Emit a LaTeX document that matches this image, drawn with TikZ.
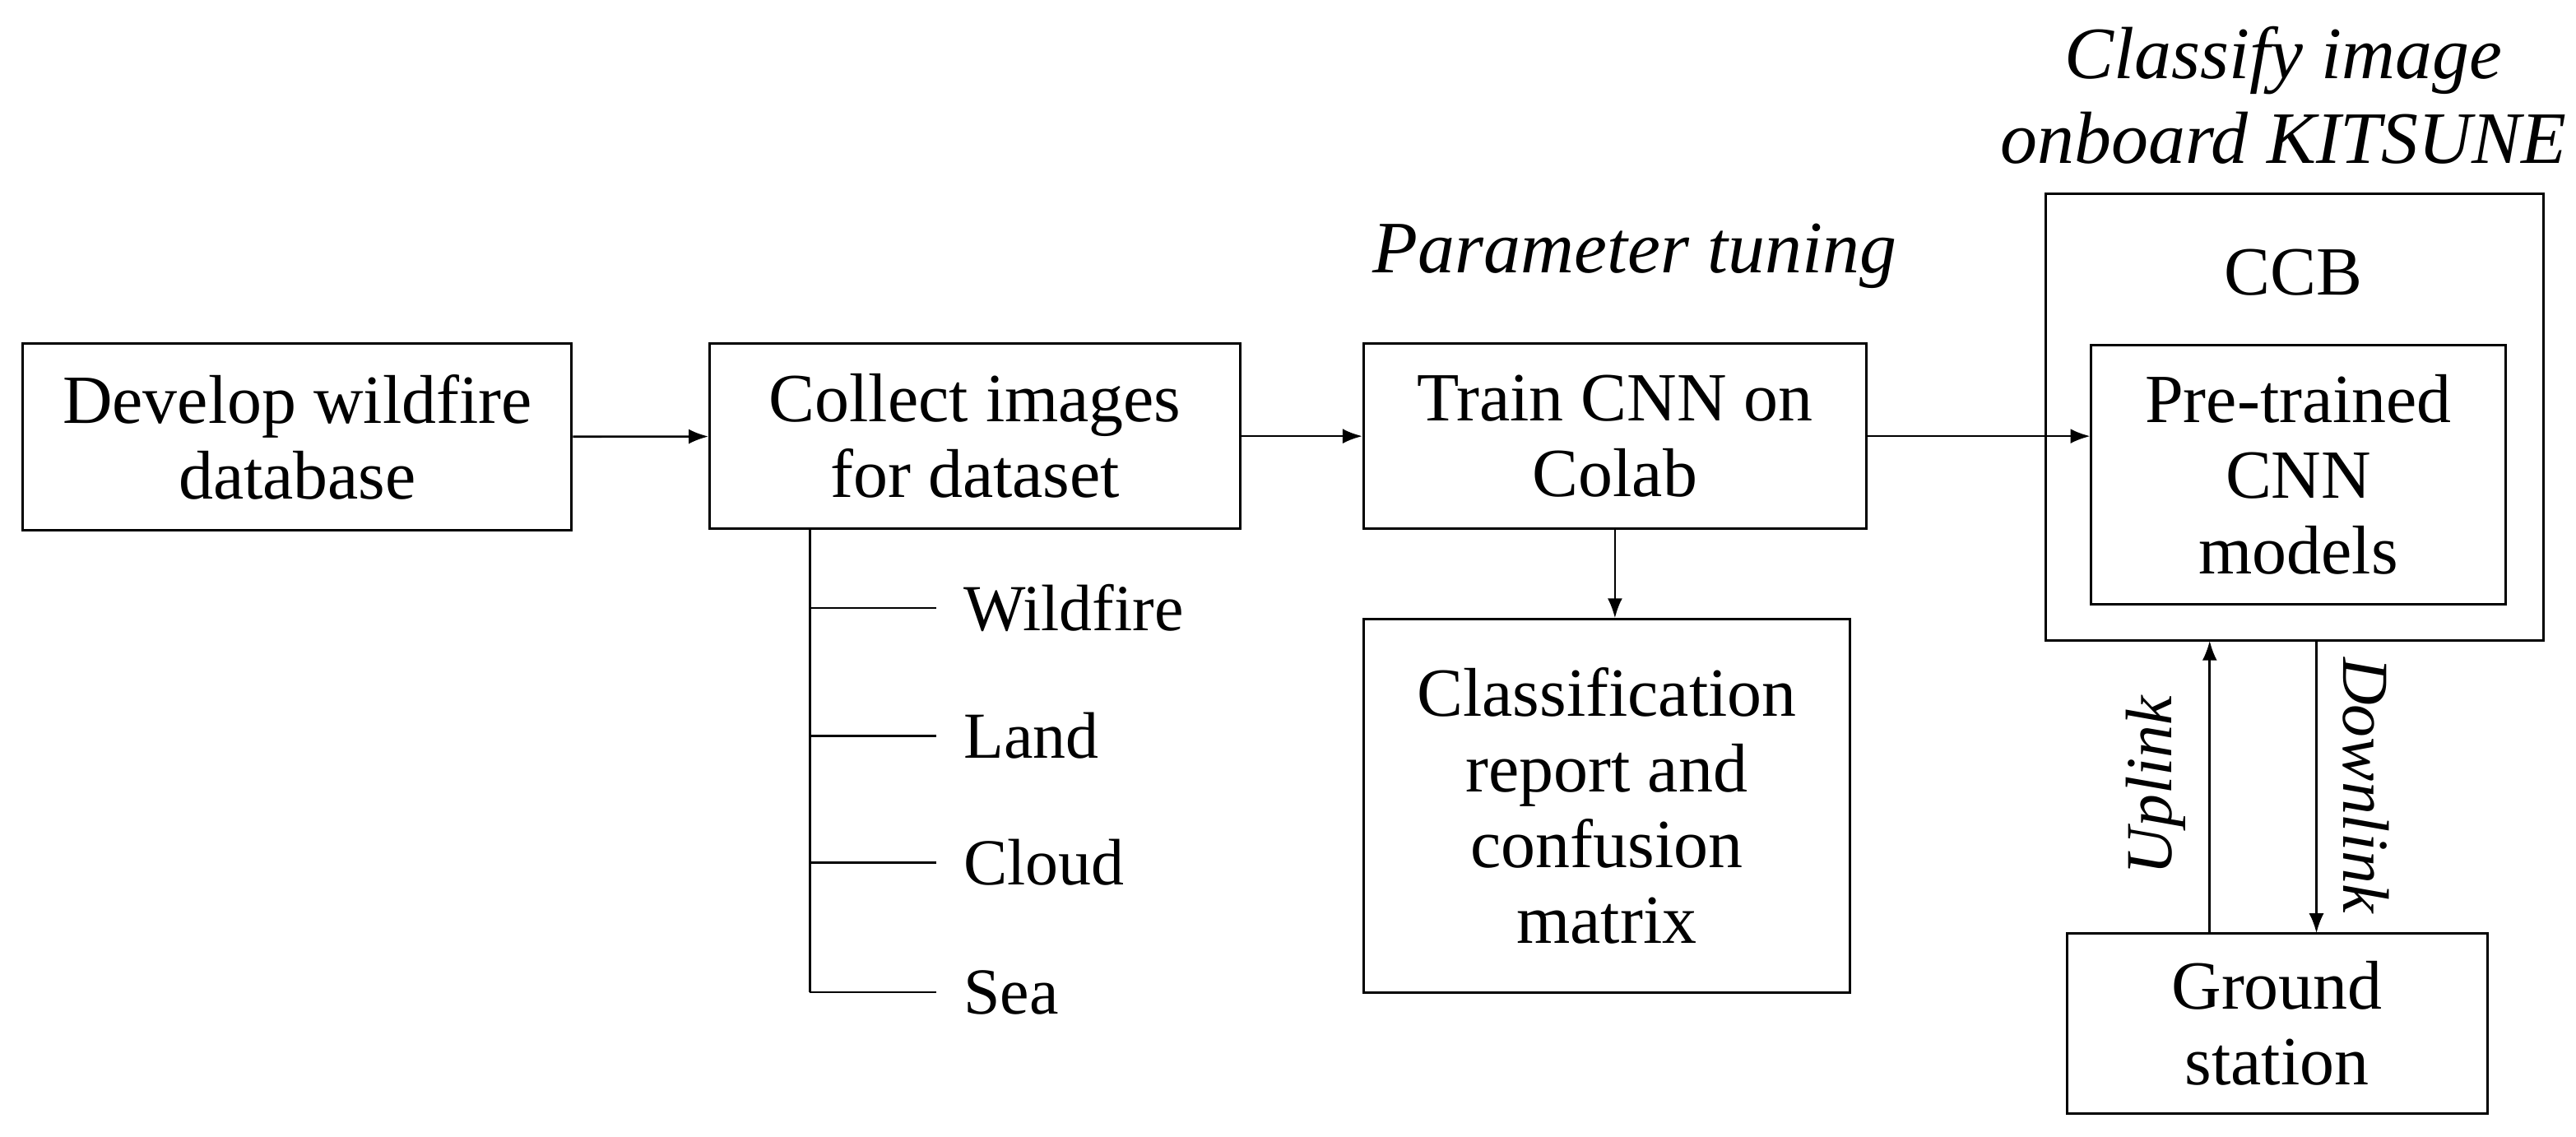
\documentclass[tikz,border=0pt]{standalone}
\usepackage{fontspec}
\setmainfont{Liberation Serif}
\usetikzlibrary{arrows.meta}
\begin{document}
\begin{tikzpicture}[x=1pt,y=-1pt,
  box/.style={draw,line width=1.5pt,align=center,font=\fontsize{42}{46}\selectfont,inner sep=0},
  lbl/.style={font=\fontsize{45}{52}\selectfont\itshape,align=center},
  rl/.style={font=\fontsize{40}{46}\selectfont\itshape},
  sm/.style={font=\fontsize{40}{44}\selectfont,anchor=west},
  arr/.style={-{Latex[length=12pt,width=9pt]},line width=1.3pt},
  ln/.style={line width=1.3pt}]
\useasboundingbox (0,0) rectangle (1568,692);
\node[box,minimum width=334pt,minimum height=114pt] (dev) at (181,266) {Develop wildfire\\database};
\node[box,minimum width=323pt,minimum height=113pt] (col) at (593.5,265.5) {Collect images\\for dataset};
\node[box,minimum width=306pt,minimum height=113pt] (tr) at (983,265.5) {Train CNN on\\Colab};
\node[box,minimum width=296pt,minimum height=227pt] (cls) at (978,490.5) {Classification\\report and\\confusion\\matrix};
\node[box,minimum width=303pt,minimum height=272pt] (ccb) at (1396.5,254) {};
\node[font=\fontsize{42}{46}\selectfont] (ccbt) at (1396,166) {CCB};
\node[box,minimum width=252pt,minimum height=158pt] (pre) at (1399,289) {Pre-trained\\CNN\\models};
\node[box,minimum width=256pt,minimum height=110pt] (gs) at (1386,623) {Ground\\station};
\node[lbl] (cl) at (1390,58) {Classify image\\onboard KITSUNE};
\node[lbl] (pt) at (995,156) {Parameter tuning};
\draw[arr] (dev) -- (col);
\draw[arr] (col) -- (tr);
\draw[arr] (tr.east) -- (tr.east -| pre.west);
\draw[arr] (tr) -- (tr |- cls.north);
\coordinate (u1) at (1345,568); \coordinate (u2) at (1345,390);
\coordinate (d1) at (1410,390); \coordinate (d2) at (1410,568);
\draw[arr] (u1) -- (u2);
\draw[arr] (d1) -- (d2);
\node[rl,rotate=90] (up) at (1312,478) {Uplink};
\node[rl,rotate=-90] (dn) at (1440,478) {Downlink};
\coordinate (t0) at (493,322);
\coordinate (t4) at (493,604);
\draw[ln] (t0) -- (t4);
\foreach \y/\t/\n in {370/Wildfire/a,448/Land/b,525/Cloud/c,604/Sea/d}{
  \coordinate (b\n) at (493,\y);
  \node[sm] (l\n) at (583,\y) {\t};
  \draw[ln] (b\n) -- (570,\y);
}
\end{tikzpicture}
\end{document}
